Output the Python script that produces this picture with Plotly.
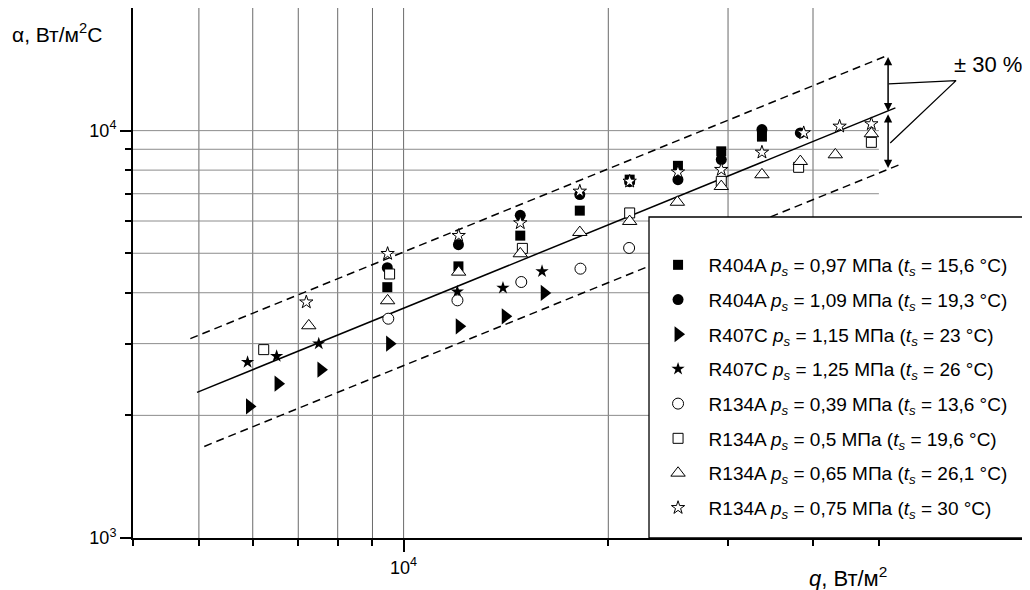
import numpy as np
import plotly.graph_objects as go

# ---------------- data (q, W/m2 ; alpha, W/m2C) ----------------
r404a_097_q = [9463, 12040, 14845, 18160, 21500, 25320, 29320, 33650]
r404a_097_a = [4128, 4643, 5524, 6362, 7581, 8196, 8896, 9667]
r404a_109_q = [9463, 12040, 14845, 18160, 21500, 25320, 29320, 33650, 38320]
r404a_109_a = [4609, 5249, 6195, 6965, 7495, 7581, 8489, 10057, 9871]
r407c_115_q = [5935, 6537, 7559, 9537, 12075, 14110, 16100]
r407c_115_a = [2104, 2392, 2589, 2999, 3308, 3500, 3996]
r407c_125_q = [5896, 6506, 7503, 11995, 14000, 15980]
r407c_125_a = [2702, 2795, 2999, 4025, 4110, 4514]
r134a_039_q = [9495, 12000, 14895, 18200, 21460]
r134a_039_a = [3454, 3832, 4250, 4583, 5152]
r134a_050_q = [6227, 9537, 14950, 21500, 29320, 38100, 48740]
r134a_050_a = [2900, 4447, 5140, 6280, 7507, 8127, 9360]
r134a_065_q = [7254, 9473, 12050, 14845, 18160, 21500, 25270, 29320, 33650, 38320, 43140, 48740]
r134a_065_a = [3321, 3825, 4497, 4989, 5628, 5989, 6676, 7298, 7798, 8407, 8730, 9832]
r134a_075_q = [7193, 9473, 12050, 14845, 18160, 21500, 25320, 29320, 33650, 38760, 43770, 48740]
r134a_075_a = [3793, 4989, 5524, 5935, 7096, 7507, 7910, 8023, 8846, 9871, 10246, 10386]

# correlation line and +-30 % band (end points)
fit_q = [4969, 52870]
fit_a = [2278, 11370]
upper_q = [4857, 51390]
upper_a = [3086, 15280]
lower_q = [5092, 54070]
lower_a = [1678, 8299]

# +-30 % marker
arrow_q = 51580
arrow_up_a = [15280, 11153]
arrow_dn_a = [11070, 8099]
leader_q = [51670, 64920, 51960]
leader_a = [13023, 13268, 9328]

# axes
x_grid = [5000, 6000, 7000, 8000, 9000, 10000, 20000, 30000, 40000]
y_grid = [2000, 3000, 4000, 5000, 6000, 7000, 8000, 9000, 10000]
x_major = [10000]
x_major_text = ["10<sup>4</sup>"]
x_minor = [4000, 5000, 6000, 7000, 8000, 9000, 20000, 30000, 40000, 50000]
y_major = [1000, 10000]
y_major_text = ["10<sup>3</sup>", "10<sup>4</sup>"]
y_minor = [2000, 3000, 4000, 5000, 6000, 7000, 8000, 9000]
x_start, x_grid_end = 4000, 50000
y_start, y_end = 1000, 20000

labels = [
    "R404A <i>p<sub>s</sub></i> = 0,97 МПа (<i>t<sub>s</sub></i> = 15,6 °C)",
    "R404A <i>p<sub>s</sub></i> = 1,09 МПа (<i>t<sub>s</sub></i> = 19,3 °C)",
    "R407C <i>p<sub>s</sub></i> = 1,15 МПа (<i>t<sub>s</sub></i> = 23 °C)",
    "R407C <i>p<sub>s</sub></i> = 1,25 МПа (<i>t<sub>s</sub></i> = 26 °C)",
    "R134A <i>p<sub>s</sub></i> = 0,39 МПа (<i>t<sub>s</sub></i> = 13,6 °C)",
    "R134A <i>p<sub>s</sub></i> = 0,5 МПа (<i>t<sub>s</sub></i> = 19,6 °C)",
    "R134A <i>p<sub>s</sub></i> = 0,65 МПа (<i>t<sub>s</sub></i> = 26,1 °C)",
    "R134A <i>p<sub>s</sub></i> = 0,75 МПа (<i>t<sub>s</sub></i> = 30 °C)",
]

FONT = "Liberation Sans, Arial, sans-serif"

series = [
    (r404a_097_q, r404a_097_a, "square", 10, "black"),
    (r404a_109_q, r404a_109_a, "circle", 11, "black"),
    (r407c_115_q, r407c_115_a, "triangle-right", 14, "black"),
    (r407c_125_q, r407c_125_a, "star", 10, "black"),
    (r134a_039_q, r134a_039_a, "circle", 11, "white"),
    (r134a_050_q, r134a_050_a, "square", 10, "white"),
    (r134a_065_q, r134a_065_a, "triangle-up", 12.5, "white"),
    (r134a_075_q, r134a_075_a, "star", 10, "white"),
]

fig = go.Figure()

# lines
fig.add_trace(go.Scatter(x=fit_q, y=fit_a, mode="lines", showlegend=False,
                         line=dict(color="black", width=1.5), hoverinfo="skip"))
for qq, aa in ((upper_q, upper_a), (lower_q, lower_a)):
    fig.add_trace(go.Scatter(x=qq, y=aa, mode="lines", showlegend=False,
                             line=dict(color="black", width=1.5, dash="8px,5px"),
                             hoverinfo="skip"))
fig.add_trace(go.Scatter(x=leader_q, y=leader_a, mode="lines", showlegend=False,
                         line=dict(color="black", width=1.3), hoverinfo="skip"))

# markers
for (qq, aa, sym, size, fill), name in zip(series, labels):
    fig.add_trace(go.Scatter(
        x=qq, y=aa, mode="markers", name="\u00a0\u00a0" + name, legendgroup=name,
        marker=dict(symbol=sym, size=size, color=fill,
                    line=dict(color="black", width=1 if fill == "white" else 0)),
    ))

# grid lines
shapes = []
for v in x_grid:
    shapes.append(dict(type="line", xref="x", yref="y", x0=v, x1=v, y0=y_start, y1=y_end,
                       line=dict(color="#6a6a6a", width=1), layer="below"))
for v in y_grid:
    shapes.append(dict(type="line", xref="x", yref="y", x0=x_start, x1=x_grid_end, y0=v, y1=v,
                       line=dict(color="#8c8c8c", width=1), layer="below"))
# legend frame
shapes.append(dict(type="rect", xref="paper", yref="paper", x0=0.5759, x1=0.9989, y0=0, y1=0.6057,
                   fillcolor="white", line=dict(color="black", width=1.3), layer="above"))

annotations = [
    dict(xref="paper", yref="paper", x=-0.1373, y=0.9528, xanchor="left", yanchor="middle",
         text="α, Вт/м<sup>2</sup>C", showarrow=False, font=dict(family=FONT, size=21, color="black")),
    dict(xref="paper", yref="paper", x=0.7522, y=-0.0736, xanchor="left", yanchor="middle",
         text="<i>q</i>, Вт/м<sup>2</sup>", showarrow=False, font=dict(family=FONT, size=22, color="black")),
    dict(xref="paper", yref="paper", x=0.914, y=0.8925, xanchor="left", yanchor="middle",
         text="± 30 %", showarrow=False, font=dict(family=FONT, size=22, color="black")),
]
for a0, a1 in (arrow_up_a, arrow_dn_a):
    annotations.append(dict(
        x=np.log10(arrow_q), y=np.log10(a1), ax=np.log10(arrow_q), ay=np.log10(a0),
        xref="x", yref="y", axref="x", ayref="y", text="", showarrow=True,
        arrowhead=2, startarrowhead=2, arrowside="end+start", arrowsize=1.1,
        startarrowsize=1.1, arrowwidth=1.5, arrowcolor="black", standoff=0, startstandoff=0))

# page body keeps its default 8 px margin, so the figure is 8 px smaller on each side
fig.update_layout(
    width=1022, height=582, autosize=False,
    margin=dict(l=125, r=1, t=0, b=52),
    paper_bgcolor="white", plot_bgcolor="white",
    font=dict(family=FONT, size=17, color="black"),
    shapes=shapes, annotations=annotations,
    legend=dict(x=0.586, y=0.551, xanchor="left", yanchor="top",
                bgcolor="rgba(0,0,0,0)", borderwidth=0, tracegroupgap=7,
                font=dict(family=FONT, size=19, color="black")),
)

fig.update_xaxes(
    type="log", range=[np.log10(x_start), np.log10(x_start) + 896 / 680],
    showgrid=False, zeroline=False, showline=True, linecolor="black", linewidth=2,
    tickmode="array", tickvals=x_major, ticktext=x_major_text,
    ticks="outside", ticklen=12, tickwidth=1.5, tickcolor="black",
    tickfont=dict(family=FONT, size=18, color="black"),
    minor=dict(tickmode="array", tickvals=x_minor, ticks="outside", ticklen=6,
               tickwidth=1.5, tickcolor="black", showgrid=False),
)
fig.update_yaxes(
    type="log", range=[np.log10(y_start), np.log10(y_end)],
    showgrid=False, zeroline=False, showline=True, linecolor="black", linewidth=2,
    tickmode="array", tickvals=y_major, ticktext=y_major_text,
    ticks="outside", ticklen=11, tickwidth=1.5, tickcolor="black",
    tickfont=dict(family=FONT, size=18, color="black"),
    minor=dict(tickmode="array", tickvals=y_minor, ticks="outside", ticklen=6,
               tickwidth=1.5, tickcolor="black", showgrid=False),
)

fig.write_html("out.html")
